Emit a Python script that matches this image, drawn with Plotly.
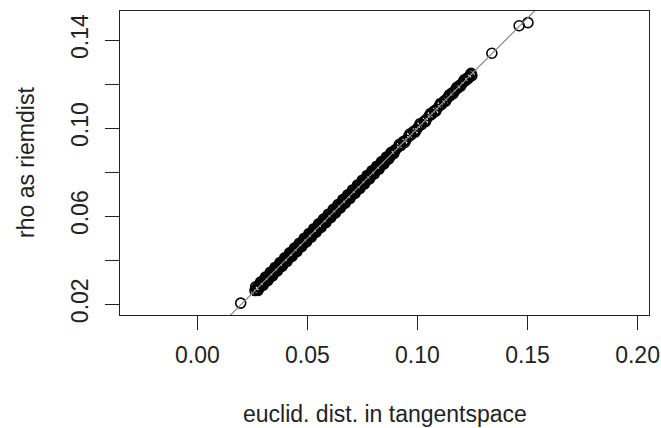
import plotly.graph_objects as go

# euclid. dist. in tangentspace (x) vs rho as riemdist (y)
euclid = [
    0.0197, 0.0262, 0.0268, 0.0273, 0.0279, 0.0284, 0.0290, 0.0295, 0.0301, 0.0306,
    0.0312, 0.0317, 0.0323, 0.0328, 0.0334, 0.0339, 0.0345, 0.0350, 0.0356, 0.0361,
    0.0367, 0.0372, 0.0378, 0.0383, 0.0389, 0.0394, 0.0400, 0.0405, 0.0411, 0.0416,
    0.0422, 0.0427, 0.0433, 0.0438, 0.0444, 0.0449, 0.0455, 0.0460, 0.0466, 0.0471,
    0.0477, 0.0482, 0.0488, 0.0493, 0.0499, 0.0504, 0.0510, 0.0515, 0.0521, 0.0526,
    0.0532, 0.0537, 0.0543, 0.0548, 0.0554, 0.0559, 0.0565, 0.0570, 0.0576, 0.0581,
    0.0587, 0.0592, 0.0598, 0.0603, 0.0609, 0.0614, 0.0620, 0.0625, 0.0631, 0.0636,
    0.0642, 0.0647, 0.0653, 0.0658, 0.0664, 0.0669, 0.0675, 0.0680, 0.0686, 0.0691,
    0.0697, 0.0702, 0.0708, 0.0713, 0.0719, 0.0724, 0.0730, 0.0735, 0.0741, 0.0746,
    0.0752, 0.0757, 0.0763, 0.0768, 0.0774, 0.0779, 0.0785, 0.0790, 0.0796, 0.0801,
    0.0807, 0.0812, 0.0818, 0.0823, 0.0829, 0.0834, 0.0840, 0.0846, 0.0852, 0.0858,
    0.0864, 0.0870, 0.0876, 0.0882, 0.0888, 0.0894, 0.0900,
    0.0265, 0.0276, 0.0287, 0.0298, 0.0309, 0.0320, 0.0331, 0.0342, 0.0353, 0.0364,
    0.0375, 0.0386, 0.0397, 0.0408, 0.0419, 0.0430, 0.0441, 0.0452, 0.0463, 0.0474,
    0.0485, 0.0496, 0.0507, 0.0518, 0.0529, 0.0540, 0.0551, 0.0562, 0.0573, 0.0584,
    0.0595, 0.0606, 0.0617, 0.0628, 0.0639, 0.0650, 0.0661, 0.0672, 0.0683, 0.0694,
    0.0705, 0.0716, 0.0727, 0.0738, 0.0749, 0.0760, 0.0771, 0.0782, 0.0793, 0.0804,
    0.0815, 0.0826, 0.0837, 0.0848, 0.0859, 0.0870, 0.0881, 0.0892,
    0.0912, 0.0925, 0.0936, 0.0948, 0.0960, 0.0971, 0.0983, 0.0995, 0.1006, 0.1018,
    0.1030, 0.1041, 0.1053, 0.1064, 0.1076, 0.1088, 0.1099, 0.1110, 0.1121, 0.1131,
    0.1140, 0.1149, 0.1158, 0.1166, 0.1175, 0.1183, 0.1192, 0.1200, 0.1209, 0.1217,
    0.1226, 0.1234, 0.1241, 0.1247,
    0.0918, 0.0942, 0.0965, 0.0989, 0.1012, 0.1036, 0.1059, 0.1082, 0.1105, 0.1127,
    0.1145, 0.1162, 0.1179, 0.1196, 0.1213, 0.1230, 0.1244,
    0.1338, 0.1462, 0.1502,
]
riem = [
    0.0205, 0.0262, 0.0271, 0.0266, 0.0284, 0.0278, 0.0296, 0.0289, 0.0306, 0.0299,
    0.0318, 0.0310, 0.0327, 0.0321, 0.0340, 0.0333, 0.0349, 0.0343, 0.0362, 0.0355,
    0.0371, 0.0365, 0.0384, 0.0377, 0.0393, 0.0388, 0.0406, 0.0399, 0.0415, 0.0410,
    0.0428, 0.0421, 0.0437, 0.0432, 0.0450, 0.0443, 0.0459, 0.0454, 0.0472, 0.0465,
    0.0481, 0.0476, 0.0494, 0.0487, 0.0503, 0.0498, 0.0516, 0.0509, 0.0525, 0.0520,
    0.0538, 0.0531, 0.0547, 0.0542, 0.0560, 0.0553, 0.0569, 0.0564, 0.0582, 0.0575,
    0.0591, 0.0586, 0.0604, 0.0597, 0.0613, 0.0608, 0.0626, 0.0619, 0.0635, 0.0630,
    0.0648, 0.0641, 0.0657, 0.0652, 0.0670, 0.0663, 0.0679, 0.0674, 0.0692, 0.0685,
    0.0701, 0.0696, 0.0714, 0.0707, 0.0723, 0.0718, 0.0736, 0.0729, 0.0745, 0.0740,
    0.0758, 0.0751, 0.0767, 0.0762, 0.0780, 0.0773, 0.0789, 0.0784, 0.0801, 0.0796,
    0.0811, 0.0807, 0.0822, 0.0818, 0.0833, 0.0829, 0.0844, 0.0841, 0.0855, 0.0854,
    0.0867, 0.0866, 0.0879, 0.0878, 0.0891, 0.0891, 0.0902,
    0.0279, 0.0263, 0.0301, 0.0285, 0.0323, 0.0307, 0.0345, 0.0329, 0.0367, 0.0351,
    0.0389, 0.0373, 0.0411, 0.0395, 0.0433, 0.0417, 0.0455, 0.0439, 0.0477, 0.0461,
    0.0499, 0.0483, 0.0521, 0.0505, 0.0543, 0.0527, 0.0565, 0.0549, 0.0587, 0.0571,
    0.0609, 0.0593, 0.0631, 0.0615, 0.0653, 0.0637, 0.0675, 0.0659, 0.0697, 0.0681,
    0.0719, 0.0703, 0.0741, 0.0725, 0.0763, 0.0747, 0.0785, 0.0769, 0.0806, 0.0792,
    0.0827, 0.0814, 0.0848, 0.0837, 0.0869, 0.0860, 0.0890, 0.0884,
    0.0914, 0.0922, 0.0939, 0.0946, 0.0962, 0.0969, 0.0985, 0.0993, 0.1008, 0.1016,
    0.1031, 0.1040, 0.1055, 0.1062, 0.1078, 0.1086, 0.1101, 0.1108, 0.1123, 0.1129,
    0.1142, 0.1147, 0.1160, 0.1164, 0.1177, 0.1181, 0.1194, 0.1198, 0.1211, 0.1215,
    0.1227, 0.1232, 0.1243, 0.1238,
    0.0926, 0.0935, 0.0973, 0.0982, 0.1020, 0.1029, 0.1066, 0.1076, 0.1112, 0.1121,
    0.1151, 0.1157, 0.1185, 0.1191, 0.1219, 0.1225, 0.1249,
    0.1340, 0.1465, 0.1479,
]

# identity reference line (abline(0, 1)) endpoints
ref_line = [-1.0, 1.0]

x_ticks = [0.00, 0.05, 0.10, 0.15, 0.20]
x_ticktext = ["0.00", "0.05", "0.10", "0.15", "0.20"]
y_ticks = [0.02, 0.04, 0.06, 0.08, 0.10, 0.12, 0.14]
y_ticktext = ["0.02", "", "0.06", "", "0.10", "", "0.14"]

x_title = "euclid. dist. in tangentspace"
y_title = "rho as riemdist"

FONT = "Liberation Sans, Arial, Helvetica, sans-serif"

fig = go.Figure()
fig.add_trace(go.Scatter(
    x=euclid, y=riem, mode="markers",
    marker=dict(symbol="circle-open", size=10, color="black", line=dict(width=1.6)),
    showlegend=False, hoverinfo="skip",
))
fig.add_trace(go.Scatter(
    x=ref_line, y=ref_line, mode="lines",
    line=dict(color="#8c8c8c", width=1.2),
    showlegend=False, hoverinfo="skip",
))

axis_common = dict(
    showline=True, mirror=True, linecolor="#222", linewidth=1.2,
    ticks="outside", ticklen=14, tickwidth=1.2, tickcolor="#222",
    showgrid=False, zeroline=False, automargin=False,
    tickfont=dict(family=FONT, size=23, color="#222"),
)

fig.update_layout(
    width=661, height=428,
    margin=dict(l=120, r=12, t=11, b=113),
    paper_bgcolor="white", plot_bgcolor="white",
    font=dict(family=FONT, size=23, color="#222"),
    xaxis=dict(range=[-0.03514, 0.2052], tickmode="array", tickvals=x_ticks,
               ticktext=x_ticktext, ticklabelstandoff=5, **axis_common),
    yaxis=dict(range=[0.0151, 0.1532], tickmode="array", tickvals=y_ticks,
               ticktext=y_ticktext, tickangle=-90, ticklabelstandoff=8, **axis_common),
    annotations=[
        dict(text=x_title, xref="paper", yref="paper", x=0.5, y=0,
             xanchor="center", yanchor="middle", yshift=-99, showarrow=False,
             font=dict(family=FONT, size=23, color="#222")),
        dict(text=y_title, xref="paper", yref="paper", x=0, y=0.5,
             xanchor="center", yanchor="middle", xshift=-94, textangle=-90,
             showarrow=False, font=dict(family=FONT, size=23, color="#222")),
    ],
)

fig.write_html("out.html",
               post_script="document.body.style.margin='0';document.body.style.overflow='hidden';",
               config={"displayModeBar": False})
